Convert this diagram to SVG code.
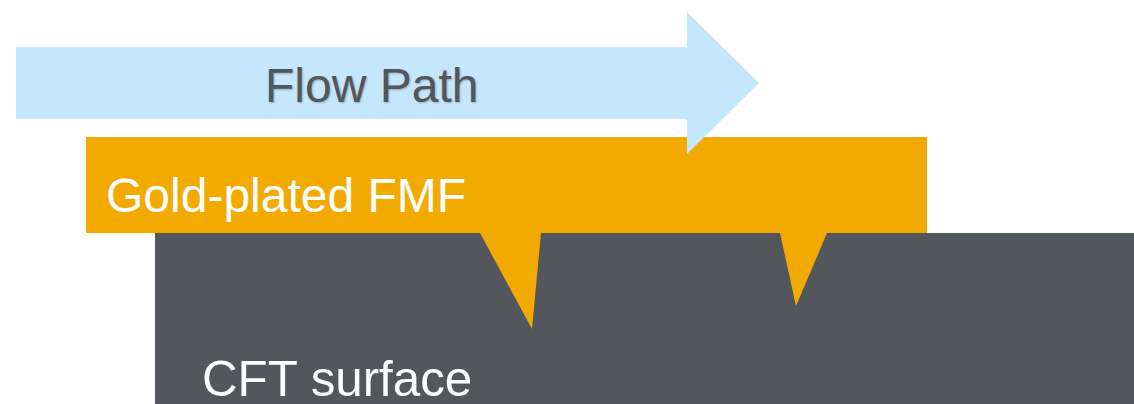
<svg xmlns="http://www.w3.org/2000/svg" width="1134" height="404" viewBox="0 0 1134 404">
<style>
text{font-family:"Liberation Sans",Arial,sans-serif;font-size:48px}
.w{fill:#fff}
.cft{font-size:49.3px}
.flow{fill:#53565a;text-shadow:1px 1px 2px rgba(0,0,0,.25)}
</style>
<rect width="1134" height="404" fill="#fff"/>
<g id="cft-surface">
<rect x="155" y="233" width="979" height="171" fill="#53565a"/>
<text x="202" y="396" class="w cft">CFT surface</text>
</g>
<g id="gold-plated-fmf">
<polygon points="86,137 927,137 927,233 827,233 796,306 780,233 541,233 532,329 480,233 86,233" fill="#f3aa00"/>
<text x="106" y="212" class="w">Gold-plated FMF</text>
</g>
<g id="flow-path">
<polygon points="16,47 687,47 687,12 759,83 687,154 687,119 16,119" fill="#c5e7fd"/>
<text x="265" y="102" class="flow">Flow Path</text>
</g>
<g id="connectors"/>
</svg>
